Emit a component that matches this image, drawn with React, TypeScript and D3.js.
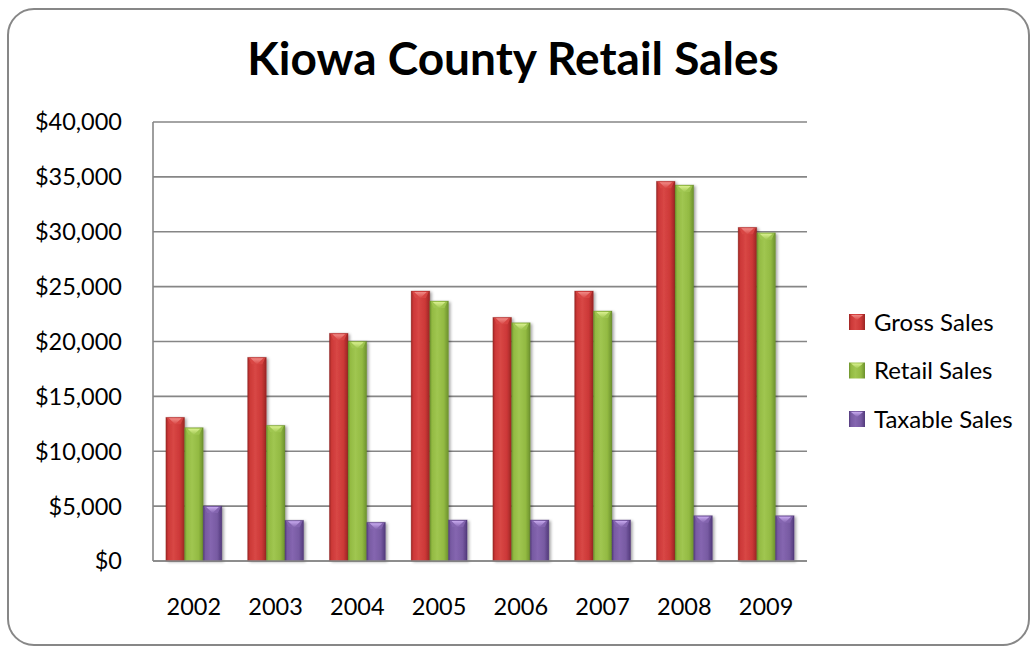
import React from 'react';
import * as d3 from 'd3';

const years = ['2002', '2003', '2004', '2005', '2006', '2007', '2008', '2009'];
const grossSales = [13090, 18560, 20750, 24600, 22200, 24600, 34600, 30400];
const retailSales = [12150, 12360, 20020, 23690, 21710, 22780, 34260, 29910];
const taxableSales = [5010, 3710, 3530, 3740, 3740, 3740, 4130, 4130];
const seriesNames = ['Gross Sales', 'Retail Sales', 'Taxable Sales'];
const yTicks = [0, 5000, 10000, 15000, 20000, 25000, 30000, 35000, 40000];
const title = 'Kiowa County Retail Sales';

const W = 1035;
const H = 648;
const plot = { left: 153, right: 807, top: 122, bottom: 561 };

const palettes = [
  { id: 'red', dark: '#9a2523', mid: '#cc3837', light: '#d84745', cap: '#f08a86', edge: '#8a2020' },
  { id: 'green', dark: '#6c912d', mid: '#93ba42', light: '#a0c651', cap: '#d9f08f', edge: '#5f8226' },
  { id: 'purple', dark: '#523a7b', mid: '#775aa2', light: '#8566b0', cap: '#c7a9ee', edge: '#4a3370' },
];

const FONT = 'Lato, "Open Sans", "DejaVu Sans", sans-serif';

export default function App() {
  const seriesData = [grossSales, retailSales, taxableSales];
  const x = d3.scaleBand<string>().domain(years).range([plot.left, plot.right]).paddingInner(0.315).paddingOuter(0.1575);
  const xs = d3.scaleBand<string>().domain(seriesNames).range([0, x.bandwidth()]);
  const y = d3.scaleLinear().domain([0, 40000]).range([plot.bottom, plot.top]);
  const fmt = (v: number) => '$' + d3.format(',')(v);

  return (
    <svg width={W} height={H} style={{ position: 'absolute', left: 0, top: 0, display: 'block' }} fontFamily={FONT}>
      <defs>
        {palettes.map((p) => (
          <linearGradient key={p.id} id={'g-' + p.id} x1="0" x2="1" y1="0" y2="0">
            <stop offset="0%" stopColor={p.dark} />
            <stop offset="12%" stopColor={p.mid} />
            <stop offset="40%" stopColor={p.light} />
            <stop offset="75%" stopColor={p.mid} />
            <stop offset="100%" stopColor={p.dark} />
          </linearGradient>
        ))}
        {palettes.map((p) => (
          <linearGradient key={'c' + p.id} id={'c-' + p.id} x1="0" x2="0" y1="0" y2="1">
            <stop offset="0%" stopColor={p.cap} />
            <stop offset="100%" stopColor={p.light} />
          </linearGradient>
        ))}
        <filter id="shadow" x="-30%" y="-10%" width="170%" height="130%">
          <feDropShadow dx="2" dy="1" stdDeviation="1.6" floodColor="#000" floodOpacity="0.35" />
        </filter>
      </defs>
      <rect x={0} y={0} width={W} height={H} fill="#ffffff" />
      <rect x={8} y={9} width={1021} height={636} rx={26} ry={26} fill="#ffffff" stroke="#878787" strokeWidth={2} />

      <text x={513} y={75} textAnchor="middle" fontSize={46} fontWeight="bold" fill="#000">
        {title}
      </text>

      {yTicks.map((t) => (
        <g key={t}>
          <line x1={plot.left} x2={plot.right} y1={y(t)} y2={y(t)} stroke="#868686" strokeWidth={1.6} />
          <text x={122} y={y(t)} dy="0.36em" textAnchor="end" fontSize={23.5} fill="#000">
            {fmt(t)}
          </text>
        </g>
      ))}
      <line x1={plot.left} x2={plot.left} y1={plot.top} y2={plot.bottom} stroke="#868686" strokeWidth={1.6} />

      {years.map((yr, i) => (
        <g key={yr}>
          {seriesNames.map((s, j) => {
            const v = seriesData[j][i];
            const bx = (x(yr) as number) + (xs(s) as number);
            const bw = xs.bandwidth();
            const by = y(v);
            const bh = y(0) - by;
            const p = palettes[j];
            const capH = Math.min(7, bh);
            return (
              <g key={s}>
                <rect x={bx} y={by} width={bw} height={bh} fill={`url(#g-${p.id})`} filter="url(#shadow)" />
                <polygon
                  points={`${bx + 1},${by + 0.5} ${bx + bw - 1},${by + 0.5} ${bx + bw - 4},${by + capH} ${bx + 4},${by + capH}`}
                  fill={p.light}
                  opacity={0.9}
                />
                <polygon
                  points={`${bx + 3},${by + 1} ${bx + bw - 3},${by + 1} ${bx + bw / 2},${by + capH}`}
                  fill={`url(#c-${p.id})`}
                />
                <rect x={bx} y={by} width={bw} height={bh} fill="none" stroke={p.edge} strokeOpacity={0.35} strokeWidth={0.8} />
              </g>
            );
          })}
          <text x={(x(yr) as number) + x.bandwidth() / 2} y={607} dy="0.36em" textAnchor="middle" fontSize={23.5} fill="#000">
            {yr}
          </text>
        </g>
      ))}
      <line x1={plot.left} x2={plot.right} y1={plot.bottom} y2={plot.bottom} stroke="#868686" strokeWidth={1.6} />

      {seriesNames.map((s, j) => {
        const cy = 322 + j * 48.5;
        const p = palettes[j];
        return (
          <g key={s}>
            <rect x={849} y={cy - 8} width={16} height={16} fill={`url(#g-${p.id})`} />
            <polygon points={`${851},${cy - 7} ${863},${cy - 7} ${857},${cy - 2}`} fill={`url(#c-${p.id})`} />
            <text x={874} y={cy} dy="0.36em" fontSize={24} fill="#000">
              {s}
            </text>
          </g>
        );
      })}
    </svg>
  );
}
